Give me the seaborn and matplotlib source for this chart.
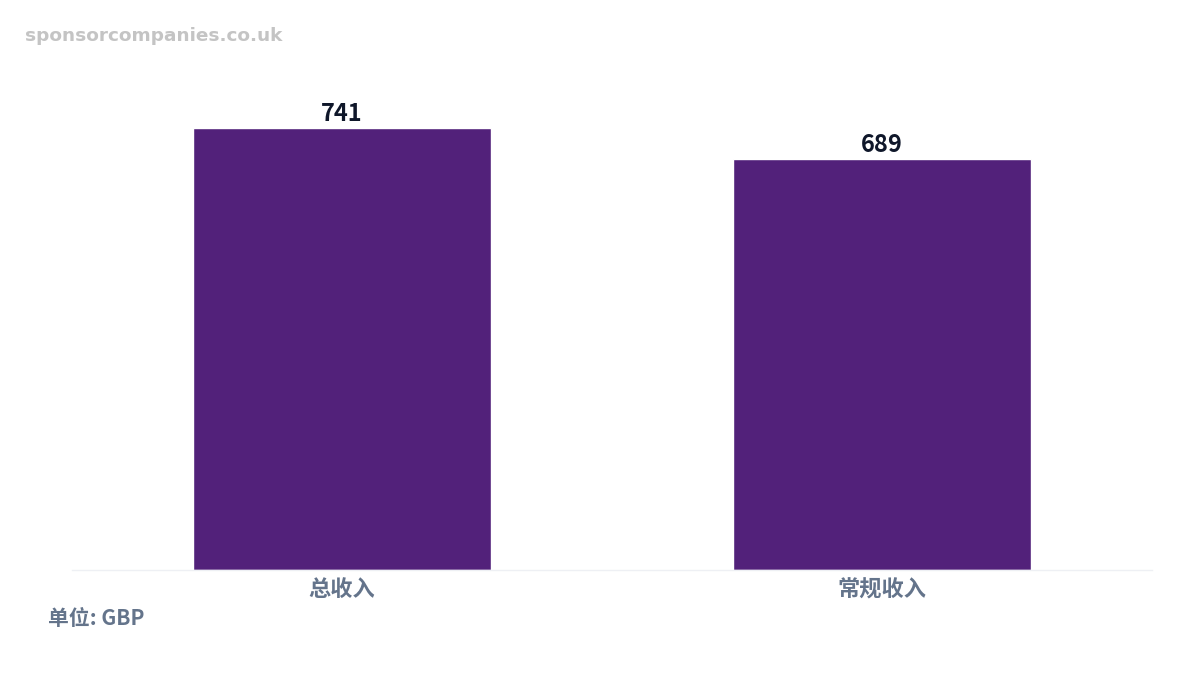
import matplotlib
matplotlib.use("Agg")
from matplotlib import pyplot as plt
import pandas as pd
import seaborn as sns

categories = ["总收入", "常规收入"]
values = [741, 689]
unit_label = "单位: GBP"
watermark = "sponsorcompanies.co.uk"

df = pd.DataFrame({"category": categories, "value": values})

sns.set_theme(style="white")
plt.rcParams['font.family'] = ['Noto Sans CJK SC', 'DejaVu Sans']

fig = plt.figure(figsize=(12, 6.75), dpi=100)
ax = fig.add_axes([0.06, 0.1556, 0.90, 0.7444])

sns.barplot(data=df, x="category", y="value", color="#52217a", width=0.553,
            saturation=1, ax=ax)

ax.set_xlim(-0.5, 1.5)
ax.set_ylim(0, 843)

# value labels above the bars
for c in ax.containers:
    ax.bar_label(c, fmt="%d", padding=2, fontsize=17, fontweight="bold", color="#0f172a")

ax.set_xlabel("")
ax.set_ylabel("")
ax.set_yticks([])
ax.tick_params(axis="x", length=0, pad=6)
for lbl in ax.get_xticklabels():
    lbl.set_fontsize(16)
    lbl.set_fontweight("bold")
    lbl.set_color("#64748b")

for s in ["top", "right", "left"]:
    ax.spines[s].set_visible(False)
ax.spines["bottom"].set_color("#eef0f4")
ax.spines["bottom"].set_linewidth(1)

fig.text(0.04, 0.083, unit_label, fontsize=15, fontweight="bold", color="#64748b",
         va="center", ha="left")
fig.text(0.021, 0.946, watermark, fontsize=13.3, fontweight="bold", color="#c4c4c4",
         va="center", ha="left", family="DejaVu Sans")

fig.savefig("out.png", dpi=100)
